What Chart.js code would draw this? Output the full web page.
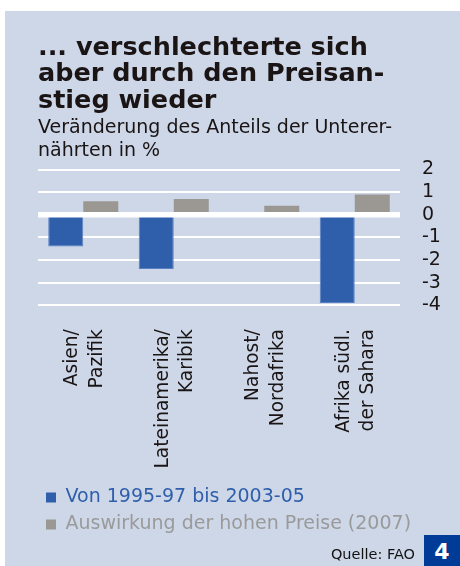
<!DOCTYPE html>
<html>
<head>
<meta charset="utf-8">
<script src="https://cdn.jsdelivr.net/npm/chart.js@4/dist/chart.umd.min.js"></script>
<style>
body{margin:0;background:#fff;width:460px;height:566px;position:relative;overflow:hidden;font-family:"DejaVu Sans",sans-serif;}
#panel{position:absolute;left:5px;top:11px;width:455px;height:555px;background:#cdd7e8;}
#quelle{position:absolute;right:45px;bottom:4px;font-size:14.5px;color:#111;}
#nr{position:absolute;right:0;bottom:0;width:36px;height:31px;background:#003c97;color:#fff;font-weight:bold;font-size:22px;text-align:center;line-height:33px;}
</style>
</head>
<body>
<div id="panel"><canvas id="c"></canvas></div>
<div id="quelle">Quelle: FAO</div>
<div id="nr">4</div>
<script>
const regions=[['Asien/','Pazifik'],['Lateinamerika/','Karibik'],['Nahost/','Nordafrika'],['Afrika südl.','der Sahara']];
const change9505=[-1.4,-2.4,-0.1,-3.9];
const priceEffect07=[0.6,0.7,0.4,0.9];
const seriesNames=['Von 1995-97 bis 2003-05','Auswirkung der hohen Preise (2007)'];
const titleLines=['... verschlechterte sich','aber durch den Preisan-','stieg wieder'];
const subtitleLines=['Veränderung des Anteils der Unterer-','nährten in %'];

const blue='#2f5fab', grey='#9b9893', ink='#1a1414';
const txt='"DejaVu Sans"';

// zero line sits on top of the bars
const zeroLine={
  id:'zeroLine',
  afterDatasetsDraw(chart){
    const {ctx,chartArea,scales:{y}}=chart;
    const py=y.getPixelForValue(0);
    ctx.save();
    ctx.strokeStyle='#fff';
    ctx.lineWidth=5.5;
    ctx.beginPath();
    ctx.moveTo(chartArea.left,py);
    ctx.lineTo(chartArea.right,py);
    ctx.stroke();
    ctx.restore();
  }
};

new Chart(document.getElementById('c'),{
  type:'bar',
  data:{labels:regions,datasets:[{
    label:seriesNames[0],
    data:change9505,
    backgroundColor:blue,
    borderColor:'#5a80c2',
    borderWidth:1,
    borderSkipped:false
  },{
    label:seriesNames[1],
    data:priceEffect07,
    backgroundColor:grey,
    borderWidth:0
  }]},
  options:{
    responsive:true,
    maintainAspectRatio:false,
    animation:false,
    devicePixelRatio:1,
    categoryPercentage:0.774,
    barPercentage:1,
    layout:{padding:{left:33,right:0,top:0,bottom:22}},
    plugins:{
      title:{display:true,text:titleLines,align:'start',color:ink,
        font:{family:txt,size:25.5,weight:'bold',lineHeight:1.04},
        padding:{top:24,bottom:1}},
      subtitle:{display:true,text:subtitleLines,align:'start',color:ink,
        font:{family:txt,size:19,lineHeight:1.21},
        padding:{top:1,bottom:7}},
      legend:{position:'bottom',align:'start',
        labels:{boxWidth:10,boxHeight:10,padding:8,
          font:{family:txt,size:19},
          generateLabels(chart){
            return Chart.defaults.plugins.legend.labels.generateLabels(chart).map((it,i)=>({
              ...it,lineWidth:0,fontColor:i===0?blue:'#9a9a9a'
            }));
          }}},
      tooltip:{enabled:false}
    },
    scales:{
      x:{grid:{display:false},border:{display:false},
        afterFit(s){s.height-=4.5;},
        ticks:{minRotation:90,maxRotation:90,padding:16,labelOffset:-11,color:ink,
          font:{family:txt,size:18.6,lineHeight:1.32}}},
      y:{position:'right',min:-4,max:2,
        afterFit(s){s.width=60;},
        grid:{color:'#fff',lineWidth:2,drawTicks:false},
        border:{display:false},
        ticks:{stepSize:1,autoSkip:false,padding:22,color:ink,
          font:{family:txt,size:19}}}
    }
  },
  plugins:[zeroLine]
});
</script>
</body>
</html>
